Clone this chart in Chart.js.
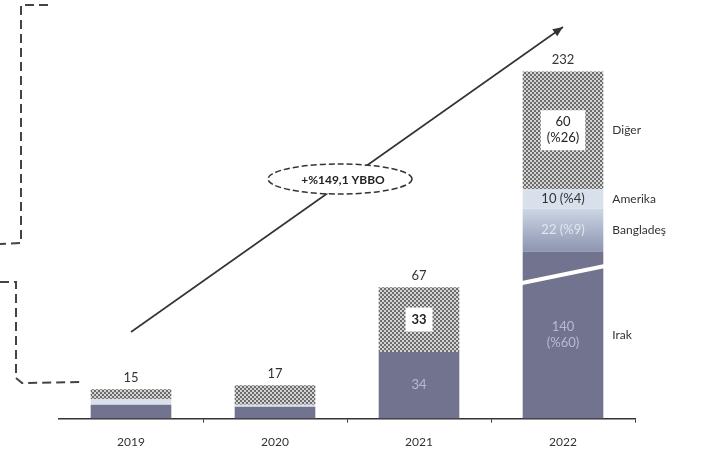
<!DOCTYPE html>
<html>
<head>
<meta charset="UTF-8" />
<title>Irak ihracati</title>
<script src="https://cdn.jsdelivr.net/npm/chart.js"></script>
<style>
  html, body { margin: 0; padding: 0; background: #fff; }
  #wrap { width: 715px; height: 454px; }
</style>
</head>
<body>
<div id="wrap"><canvas id="chart" width="715" height="454"></canvas></div>
<script>
const years = ['2019', '2020', '2021', '2022'];
const irak = [7, 6, 34, 140];
const banglades = [0, 0, 0, 22];
const amerika = [3, 1, 0, 10];
const diger = [5, 10, 33, 60];
const seriesNames = ['Irak', 'Bangladeş', 'Amerika', 'Diğer'];
const growthLabel = '+%149,1 YBBO';

const totals = years.map((_, i) => irak[i] + banglades[i] + amerika[i] + diger[i]);

// broken axis: values between BREAK_FROM and BREAK_TO are cut out of the picture
const BREAK_FROM = 75;
const BREAK_TO = 130;
const GAP = BREAK_TO - BREAK_FROM;
const squash = v => v <= BREAK_FROM ? v : (v >= BREAK_TO ? v - GAP : BREAK_FROM);
const unsquash = s => s <= BREAK_FROM ? s : s + GAP;

class BrokenScale extends Chart.LinearScale {
  getPixelForValue(v) { return super.getPixelForValue(squash(v)); }
  getValueForPixel(p) { return unsquash(super.getValueForPixel(p)); }
}
BrokenScale.id = 'broken';
BrokenScale.defaults = Chart.LinearScale.defaults;
Chart.register(BrokenScale);

Chart.defaults.font.family = 'Lato';
Chart.defaults.color = '#333';

const canvas = document.getElementById('chart');
const ctx0 = canvas.getContext('2d');

// checkered fill for "Diğer"
const tile = document.createElement('canvas');
tile.width = 4; tile.height = 4;
const tg = tile.getContext('2d');
tg.fillStyle = '#d4d4d4'; tg.fillRect(0, 0, 4, 4);
tg.fillStyle = '#6c6c6c';
tg.fillRect(0, 0, 2, 2); tg.fillRect(2, 2, 2, 2);
const checker = ctx0.createPattern(tile, 'repeat');

const bangGradient = (c) => {
  const chart = c.chart, y = chart.scales.y;
  if (!chart.chartArea || !y) return '#aab5cc';
  const last = years.length - 1;
  const top = y.getPixelForValue(irak[last] + banglades[last]);
  const bot = y.getPixelForValue(irak[last]);
  const g = chart.ctx.createLinearGradient(0, top, 0, bot);
  g.addColorStop(0, '#cdd6e5');
  g.addColorStop(1, '#8d94b0');
  return g;
};

// label styles per series: text colour and whether it sits in a white box
const labelStyle = [
  { color: '#b9bbd0', box: false },
  { color: '#e0e6f0', box: false },
  { color: '#333', box: false },
  { color: '#222', box: true }
];

const segmentLabels = {
  id: 'segmentLabels',
  afterDatasetsDraw(chart) {
    const ctx = chart.ctx;
    const last = years.length - 1;
    ctx.save();
    ctx.textAlign = 'center';
    ctx.textBaseline = 'middle';
    chart.data.datasets.forEach((ds, d) => {
      const meta = chart.getDatasetMeta(d);
      meta.data.forEach((el, i) => {
        const v = ds.data[i];
        if (!v) return;
        const h = el.base - el.y;
        if (i !== last && h < 25) return;
        const cy = (el.y + el.base) / 2;
        const pct = Math.round(v / totals[i] * 100);
        let lines;
        if (i !== last) lines = [String(v)];
        else if (h > 60) lines = [String(v), '(%' + pct + ')'];
        else lines = [v + ' (%' + pct + ')'];
        const st = labelStyle[d];
        ctx.font = (st.box && i !== last ? 'bold ' : '') + '13px Lato';
        if (st.box) {
          const w = Math.max(...lines.map(t => ctx.measureText(t).width)) + 12;
          const bh = lines.length * 16 + 8;
          ctx.fillStyle = '#fff';
          ctx.fillRect(el.x - w / 2, cy - bh / 2, w, bh);
        }
        ctx.fillStyle = st.color;
        lines.forEach((t, k) => ctx.fillText(t, el.x, cy + (k - (lines.length - 1) / 2) * 16));
      });
    });
    // totals above bars
    const topMeta = chart.getDatasetMeta(chart.data.datasets.length - 1);
    ctx.font = '13px Lato';
    ctx.fillStyle = '#333';
    ctx.textBaseline = 'bottom';
    topMeta.data.forEach((el, i) => ctx.fillText(String(totals[i]), el.x, el.y - 5));
    // series names right of the last bar
    ctx.textAlign = 'left';
    ctx.textBaseline = 'middle';
    ctx.font = '12px Lato';
    chart.data.datasets.forEach((ds, d) => {
      const el = chart.getDatasetMeta(d).data[last];
      ctx.fillText(seriesNames[d], el.x + el.width / 2 + 9, (el.y + el.base) / 2);
    });
    // break marker on the last Irak bar
    const irakEl = chart.getDatasetMeta(0).data[last];
    const yb = chart.scales.y.getPixelForValue(BREAK_FROM) + 3;
    const x1 = irakEl.x - irakEl.width / 2 - 3, x2 = irakEl.x + irakEl.width / 2 + 4;
    ctx.strokeStyle = '#fff';
    ctx.lineWidth = 4;
    ctx.beginPath();
    ctx.moveTo(x1, yb + 9);
    ctx.lineTo(x2, yb - 9);
    ctx.stroke();
    ctx.restore();
  },
  afterDraw(chart) {
    const ctx = chart.ctx;
    const x = chart.scales.x;
    ctx.save();
    // growth arrow
    const sx = x.getPixelForValue(0), sy = 332;
    const ex = x.getPixelForValue(years.length - 1), ey = 27;
    ctx.strokeStyle = '#333';
    ctx.fillStyle = '#333';
    ctx.lineWidth = 1.6;
    ctx.beginPath();
    ctx.moveTo(sx, sy);
    ctx.lineTo(ex, ey);
    ctx.stroke();
    const ang = Math.atan2(ey - sy, ex - sx);
    ctx.beginPath();
    ctx.moveTo(ex, ey);
    ctx.lineTo(ex - 11 * Math.cos(ang - 0.4), ey - 11 * Math.sin(ang - 0.4));
    ctx.lineTo(ex - 11 * Math.cos(ang + 0.4), ey - 11 * Math.sin(ang + 0.4));
    ctx.closePath();
    ctx.fill();
    // dashed ellipse with growth text
    const cx = 340, cy = 179;
    ctx.beginPath();
    ctx.ellipse(cx, cy, 72, 15, 0, 0, Math.PI * 2);
    ctx.fillStyle = '#fff';
    ctx.fill();
    ctx.setLineDash([6, 3]);
    ctx.lineWidth = 1.5;
    ctx.stroke();
    ctx.setLineDash([]);
    ctx.fillStyle = '#222';
    ctx.font = 'bold 12px Lato';
    ctx.textAlign = 'center';
    ctx.textBaseline = 'middle';
    ctx.fillText(growthLabel, cx + 3, cy + 1);
    // dashed brackets on the left edge
    ctx.strokeStyle = '#444';
    ctx.lineWidth = 2;
    ctx.setLineDash([9, 5]);
    ctx.beginPath();
    ctx.moveTo(48, 5); ctx.lineTo(21, 5); ctx.lineTo(21, 243); ctx.lineTo(0, 244);
    ctx.moveTo(0, 282); ctx.lineTo(16, 282); ctx.lineTo(16, 378); ctx.lineTo(22, 383); ctx.lineTo(80, 382);
    ctx.stroke();
    ctx.restore();
  }
};

new Chart(canvas, {
  type: 'bar',
  data: {
    labels: years,
    datasets: [
      { label: seriesNames[0], data: irak, backgroundColor: '#72748f' },
      { label: seriesNames[1], data: banglades, backgroundColor: bangGradient },
      { label: seriesNames[2], data: amerika, backgroundColor: '#d8e0ec' },
      { label: seriesNames[3], data: diger, backgroundColor: checker }
    ]
  },
  options: {
    responsive: false,
    animation: false,
    layout: { padding: { left: 59, right: 80, top: 40, bottom: -7 } },
    datasets: { bar: { categoryPercentage: 0.56, barPercentage: 1 } },
    plugins: { legend: { display: false }, tooltip: { enabled: false } },
    scales: {
      x: {
        stacked: true,
        grid: {
          drawOnChartArea: false,
          tickLength: 4,
          color: c => (c.index === 0 || c.index === years.length) ? 'rgba(0,0,0,0)' : '#333'
        },
        border: { color: '#333', width: 1.5 },
        ticks: { font: { size: 12 }, color: '#333', padding: 12 }
      },
      y: {
        type: 'broken',
        stacked: true,
        display: false,
        min: 0,
        max: 193
      }
    }
  },
  plugins: [segmentLabels]
});
</script>
</body>
</html>
